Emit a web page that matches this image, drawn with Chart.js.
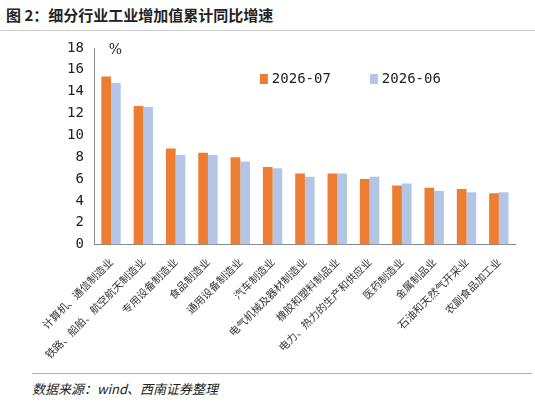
<!DOCTYPE html>
<html>
<head>
<meta charset="utf-8">
<script src="https://cdn.jsdelivr.net/npm/chart.js@4/dist/chart.umd.min.js"></script>
<style>
body { margin: 0; width: 535px; height: 406px; background: #fff; font-family: "Noto Sans CJK SC", sans-serif; position: relative; overflow: hidden; }
#title { position: absolute; left: 6px; top: 4px; font-size: 15px; font-weight: bold; color: #222; }
#topline { position: absolute; left: 0; top: 30px; width: 535px; border-top: 1px solid #ccc; }
#wrap { position: absolute; left: 40px; top: 34px; width: 485px; height: 330px; }
#botline { position: absolute; left: 32px; top: 373px; width: 500px; border-top: 1px solid #d9a860; }
#source { position: absolute; left: 32px; top: 379px; font-size: 13px; font-style: italic; color: #222; }
</style>
</head>
<body>
<div id="title">图 2：细分行业工业增加值累计同比增速</div>
<div id="topline"></div>
<div id="wrap"><canvas id="chart"></canvas></div>
<div id="botline"></div>
<div id="source">数据来源：wind、西南证券整理</div>
<script>
const categories = ["计算机、通信制造业", "铁路、船舶、航空航天制造业", "专用设备制造业", "食品制造业", "通用设备制造业", "汽车制造业", "电气机械及器材制造业", "橡胶和塑料制品业", "电力、热力的生产和供应业", "医药制造业", "金属制品业", "石油和天然气开采业", "农副食品加工业"];
const jul = [15.4, 12.7, 8.8, 8.4, 8.0, 7.1, 6.5, 6.5, 6.0, 5.4, 5.2, 5.1, 4.7];
const jun = [14.8, 12.6, 8.2, 8.2, 7.6, 7.0, 6.2, 6.5, 6.2, 5.6, 4.9, 4.8, 4.8];
const yTicks = [0, 2, 4, 6, 8, 10, 12, 14, 16, 18];

const ctx = document.getElementById("chart").getContext("2d");
new Chart(ctx, {
    type: "bar",
    data: {
        labels: categories,
        datasets: [
            { label: "2026-07", data: jul, backgroundColor: "#ed7d31", categoryPercentage: 0.6, barPercentage: 1 },
            { label: "2026-06", data: jun, backgroundColor: "#b4c6e7", categoryPercentage: 0.6, barPercentage: 1 }
        ]
    },
    plugins: [{
        id: "unitAndLegend",
        afterDraw(chart) {
            const c = chart.ctx;
            const a = chart.chartArea;
            c.save();
            c.font = "14px 'DejaVu Serif'";
            c.fillStyle = "#222";
            c.fillText("%", a.left + 14, a.top + 6);
            c.font = "14px 'DejaVu Sans Mono'";
            c.textBaseline = "middle";
            chart.data.datasets.forEach((ds, i) => {
                const x = a.left + 165 + i * 110;
                const y = a.top + 31;
                c.fillStyle = ds.backgroundColor;
                c.fillRect(x, y - 5, 8, 10);
                c.fillStyle = "#222";
                c.fillText(ds.label, x + 12, y);
            });
            c.restore();
        }
    }],
    options: {
        responsive: true,
        maintainAspectRatio: false,
        animation: false,
        layout: { padding: { top: 14, right: 10 } },
        plugins: {
            legend: { display: false },
            tooltip: { enabled: false }
        },
        scales: {
            x: {
                grid: { display: false },
                border: { color: "#888" },
                ticks: { maxRotation: 45, minRotation: 45, font: { size: 10.5, family: "Noto Sans CJK SC" }, color: "#333" }
            },
            y: {
                min: 0, max: 18,
                afterBuildTicks(axis) { axis.ticks = yTicks.map(v => ({ value: v })); },
                grid: { display: false },
                border: { color: "#888" },
                ticks: { font: { size: 14, family: "DejaVu Sans Mono" }, color: "#222" }
            }
        }
    }
});
</script>
</body>
</html>
